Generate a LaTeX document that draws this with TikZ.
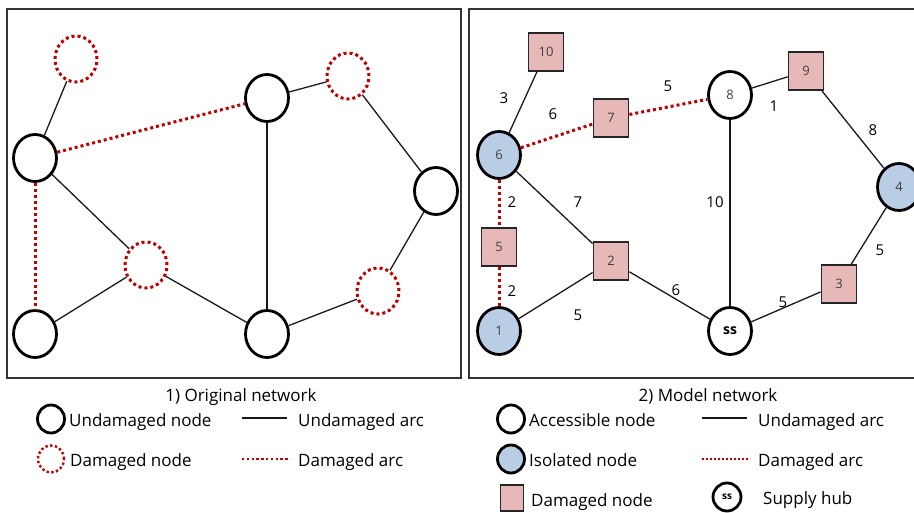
\documentclass[tikz,border=0pt]{standalone}
\usepackage{fontspec}
\setmainfont{Open Sans}
\usepackage{tikz}
\usetikzlibrary{shapes.geometric}

\definecolor{dmgred}{RGB}{192,0,0}
\definecolor{isoblue}{RGB}{185,205,229}
\definecolor{dmgpink}{RGB}{230,185,184}

\tikzset{
	okcirc/.style={ellipse,draw=black,line width=2.8pt,fill=white,minimum width=43pt,minimum height=47pt,inner sep=0pt,font=\fontsize{13}{15}\selectfont,text=black!75},
	isocirc/.style={okcirc,fill=isoblue},
	dmgcirc/.style={ellipse,draw=dmgred,line width=3pt,dash pattern=on 3pt off 3pt,minimum width=42pt,minimum height=46pt,inner sep=0pt},
	dmgsq/.style={rectangle,draw=black!85,line width=1.8pt,fill=dmgpink,minimum width=35pt,minimum height=38pt,inner sep=0pt,font=\fontsize{13}{15}\selectfont,text=black!75},
	arc/.style={draw=black!90,line width=1.3pt},
	dmgarc/.style={draw=dmgred,line width=3pt,dash pattern=on 3pt off 3pt},
	frame/.style={draw=black!80,line width=1.4pt},
	wlabel/.style={inner sep=0.75pt,font=\fontsize{15}{17}\selectfont},
	legtext/.style={anchor=base west,inner sep=0pt,font=\fontsize{17}{19}\selectfont},
}

\begin{document}
\begin{tikzpicture}[x=1pt,y=1pt,yscale=-1,xscale=1]
	%set diagram size to 914 x 513
	\clip (0,0) rectangle (914,513);
	
	%Panel frames
	\draw [frame] (7,9) rectangle (461,378);
	\draw [frame] (469,9) rectangle (924,378);
	
	%Original network: nodes
	\node [dmgcirc] (oa) at (76,59) {};
	\node [okcirc] (ob) at (35,158) {};
	\node [okcirc] (oc) at (35,334) {};
	\node [dmgcirc] (od) at (146,265) {};
	\node [okcirc] (oe) at (267,98) {};
	\node [okcirc] (of) at (267,334) {};
	\node [dmgcirc] (og) at (348,76) {};
	\node [okcirc] (oh) at (436,191) {};
	\node [dmgcirc] (oi) at (378,291) {};
	
	%Original network: arcs
	\draw [arc] (oa) -- (ob);
	\draw [dmgarc] (ob) -- (oe);
	\draw [dmgarc] (ob) -- (oc);
	\draw [arc] (ob) -- (od);
	\draw [arc] (od) -- (oc);
	\draw [arc] (od) -- (of);
	\draw [arc] (oe) -- (of);
	\draw [arc] (oe) -- (og);
	\draw [arc] (og) -- (oh);
	\draw [arc] (oh) -- (oi);
	\draw [arc] (oi) -- (of);
	
	%Model network: nodes
	\node [dmgsq] (m10) at (546,52) {10};
	\node [isocirc] (m6) at (499,155) {6};
	\node [dmgsq] (m7) at (611,118) {7};
	\node [okcirc] (m8) at (730,95) {8};
	\node [dmgsq] (m9) at (806,71) {9};
	\node [isocirc] (m4) at (899,187) {4};
	\node [dmgsq] (m5) at (499,247) {5};
	\node [dmgsq] (m2) at (611,261) {2};
	\node [dmgsq] (m3) at (839,284) {3};
	\node [isocirc] (m1) at (499,331) {1};
	\node [okcirc,font=\fontsize{14}{16}\selectfont\bfseries,text=black] (mss) at (730,331) {ss};
	
	%Model network: arcs
	\draw [arc] (m10) -- (m6);
	\draw [dmgarc] (m6) -- (m7);
	\draw [dmgarc] (m7) -- (m8);
	\draw [arc] (m8) -- (m9);
	\draw [arc] (m9) -- (m4);
	\draw [dmgarc] (m6) -- (m5);
	\draw [dmgarc] (m5) -- (m1);
	\draw [arc] (m6) -- (m2);
	\draw [arc] (m2) -- (m1);
	\draw [arc] (m2) -- (mss);
	\draw [arc] (m8) -- (mss);
	\draw [arc] (mss) -- (m3);
	\draw [arc] (m3) -- (m4);
	
	% Arc weights
	\node [wlabel] (w106) at (504,98) {3};
	\node [wlabel] (w67) at (553,114) {6};
	\node [wlabel] (w78) at (668,86) {5};
	\node [wlabel] (w89) at (774,106) {1};
	\node [wlabel] (w94) at (873,130) {8};
	\node [wlabel] (w65) at (512,202) {2};
	\node [wlabel] (w62) at (578,202) {7};
	\node [wlabel] (w8ss) at (715,202) {10};
	\node [wlabel] (w34) at (880,250) {5};
	\node [wlabel] (w51) at (512,291) {2};
	\node [wlabel] (w2ss) at (676,290) {6};
	\node [wlabel] (w21) at (578,315) {5};
	\node [wlabel] (wss3) at (783,302) {5};
	
	% Captions
	\node [anchor=base,inner sep=0pt,font=\fontsize{17}{19}\selectfont] (cap1) at (241,401) {1) Original network};
	\node [anchor=base,inner sep=0pt,font=\fontsize{17}{19}\selectfont] (cap2) at (708,401) {2) Model network};
	
	%Legend of the original network
	\node [okcirc,minimum width=27pt,minimum height=28pt] (lo1) at (51,419) {};
	\node [legtext] (lo1t) at (69,426) {Undamaged node};
	\node [dmgcirc,line width=2.4pt,dash pattern=on 2.4pt off 2.4pt,minimum width=26pt,minimum height=27pt] (lo2) at (51,459) {};
	\node [legtext] (lo2t) at (70,466) {Damaged node};
	\coordinate (lo3a) at (242,418);
	\coordinate (lo3b) at (287,418);
	\draw [arc] (lo3a) -- (lo3b);
	\node [legtext] (lo3t) at (298,426) {Undamaged arc};
	\coordinate (lo4a) at (242,459);
	\coordinate (lo4b) at (290,459);
	\draw [dmgarc,line width=2.4pt,dash pattern=on 2.4pt off 2.4pt] (lo4a) -- (lo4b);
	\node [legtext] (lo4t) at (298,466) {Damaged arc};
	
	%Legend of the model network
	\node [okcirc,minimum width=27pt,minimum height=28pt] (lm1) at (511,419) {};
	\node [legtext] (lm1t) at (529,426) {Accessible node};
	\node [isocirc,minimum width=27pt,minimum height=28pt] (lm2) at (511,459) {};
	\node [legtext] (lm2t) at (529,466) {Isolated node};
	\node [dmgsq,minimum width=23pt,minimum height=26pt,line width=1.2pt] (lm3) at (512,498) {};
	\node [legtext] (lm3t) at (531,506) {Damaged node};
	\coordinate (lm4a) at (702,418);
	\coordinate (lm4b) at (747,418);
	\draw [arc] (lm4a) -- (lm4b);
	\node [legtext] (lm4t) at (758,426) {Undamaged arc};
	\coordinate (lm5a) at (702,459);
	\coordinate (lm5b) at (750,459);
	\draw [dmgarc,line width=2pt,dash pattern=on 2pt off 2pt] (lm5a) -- (lm5b);
	\node [legtext] (lm5t) at (758,466) {Damaged arc};
	\node [okcirc,minimum width=28pt,minimum height=28pt,font=\fontsize{10}{12}\selectfont\bfseries,text=black] (lm6) at (727,497) {ss};
	\node [legtext] (lm6t) at (763,504) {Supply hub};
	
\end{tikzpicture}
\end{document}
